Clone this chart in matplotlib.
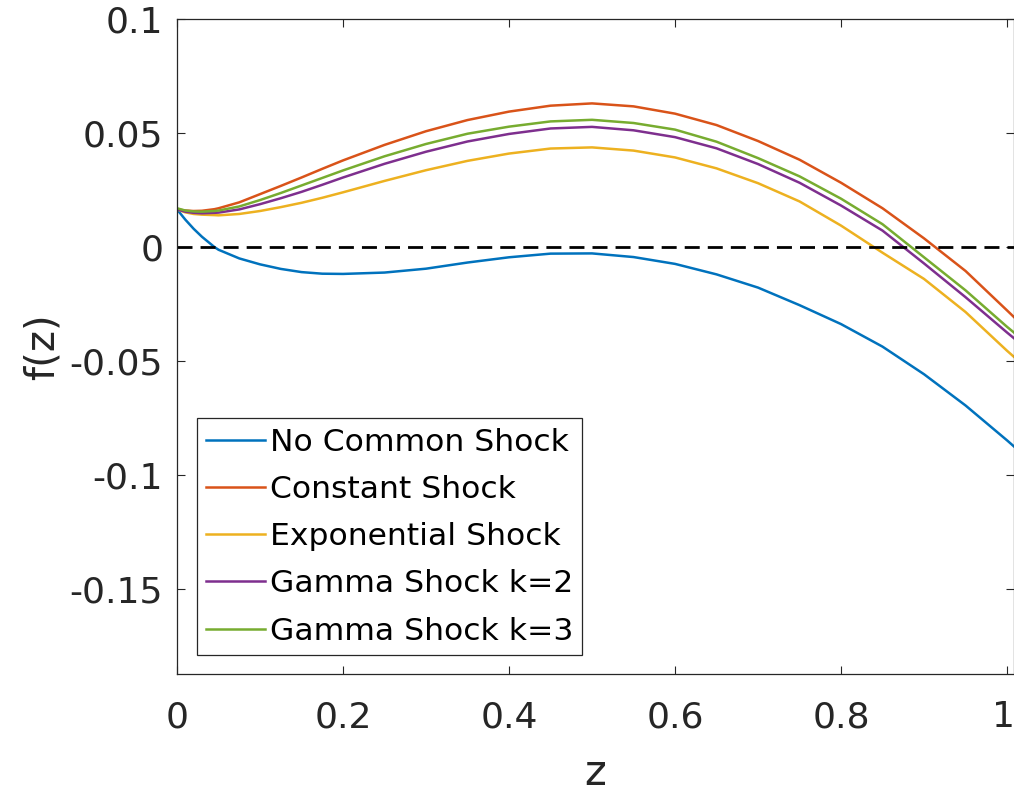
import numpy as np
import matplotlib
matplotlib.use("Agg")
import matplotlib.pyplot as plt
from matplotlib.transforms import ScaledTranslation

plt.rcParams["font.family"] = ["DejaVu Sans"]
plt.rcParams["axes.unicode_minus"] = False

# ── data ────────────────────────────────────────────────────────────
z = [0.0, 0.01, 0.02, 0.03, 0.045, 0.05, 0.075, 0.1, 0.125, 0.15, 0.175, 0.2,
     0.25, 0.3, 0.35, 0.4, 0.45, 0.5, 0.55, 0.6, 0.65, 0.7, 0.75, 0.8,
     0.85, 0.9, 0.95, 1.0, 1.01]

no_common = [0.0165, 0.0120, 0.0080, 0.0045, 0.0000, -0.0012, -0.0050, -0.0076,
             -0.0096, -0.0110, -0.0117, -0.0118, -0.0112, -0.0095, -0.0068,
             -0.0045, -0.0029, -0.0028, -0.0044, -0.0074, -0.0120, -0.0178,
             -0.0255, -0.0338, -0.0437, -0.0558, -0.0695, -0.0848, -0.0880]

constant = [0.0165, 0.0160, 0.0158, 0.0159, 0.0166, 0.0170, 0.0196, 0.0232,
            0.0268, 0.0305, 0.0343, 0.0380, 0.0448, 0.0508, 0.0557, 0.0594,
            0.0620, 0.0630, 0.0617, 0.0585, 0.0535, 0.0465, 0.0383, 0.0282,
            0.0170, 0.0038, -0.0105, -0.0278, -0.0313]

exponential = [0.0165, 0.0152, 0.0145, 0.0142, 0.0140, 0.0139, 0.0145, 0.0158,
               0.0175, 0.0194, 0.0216, 0.0240, 0.0290, 0.0337, 0.0378, 0.0410,
               0.0432, 0.0437, 0.0423, 0.0393, 0.0345, 0.0280, 0.0200, 0.0094,
               -0.0025, -0.0140, -0.0285, -0.0455, -0.0487]

gamma_k2 = [0.0165, 0.0155, 0.0150, 0.0148, 0.0150, 0.0151, 0.0165, 0.0188,
            0.0214, 0.0242, 0.0273, 0.0305, 0.0365, 0.0418, 0.0463, 0.0496,
            0.0520, 0.0527, 0.0512, 0.0482, 0.0433, 0.0364, 0.0282, 0.0182,
            0.0072, -0.0072, -0.0220, -0.0375, -0.0405]

gamma_k3 = [0.0170, 0.0160, 0.0156, 0.0155, 0.0158, 0.0160, 0.0178, 0.0206,
            0.0237, 0.0270, 0.0303, 0.0336, 0.0398, 0.0452, 0.0497, 0.0528,
            0.0551, 0.0558, 0.0544, 0.0515, 0.0462, 0.0390, 0.0310, 0.0212,
            0.0100, -0.0045, -0.0190, -0.0350, -0.0380]

series = [no_common, constant, exponential, gamma_k2, gamma_k3]
labels = ["No Common Shock", "Constant Shock", "Exponential Shock",
          "Gamma Shock k=2", "Gamma Shock k=3"]
colors = ["#0072BD", "#D95319", "#EDB120", "#7E2F8E", "#77AC30"]

xticks = [0, 0.2, 0.4, 0.6, 0.8, 1.0]
xtick_labels = ["0", "0.2", "0.4", "0.6", "0.8", "1"]
yticks = [-0.15, -0.1, -0.05, 0, 0.05, 0.1]
ytick_labels = ["-0.15", "-0.1", "-0.05", "0", "0.05", "0.1"]

# ── figure ──────────────────────────────────────────────────────────
fig = plt.figure(figsize=(10.14, 7.97), dpi=100)
ax = fig.add_axes([0.1746, 0.1543, 0.8254, 0.8218])

for y, lab, c in zip(series, labels, colors):
    ax.plot(z, y, color=c, lw=1.8, label=lab)
ax.axhline(0, color="k", lw=2.0, ls=(0, (5.4, 2.9)))

ax.set_xlim(0, 1.0084)
ax.set_ylim(-0.1873, 0.1)
ax.set_xticks(xticks)
ax.set_xticklabels(xtick_labels)
ax.set_yticks(yticks)
ax.set_yticklabels(ytick_labels)

dark = "#262626"
for s in ax.spines.values():
    s.set_color(dark)
    s.set_linewidth(0.9)
ax.tick_params(direction="in", length=5.8, width=0.8, color=dark,
               labelcolor=dark, labelsize=26, top=True, right=True)
ax.tick_params(axis="x", pad=19)
ax.tick_params(axis="y", pad=10)

# nudge the last x label so it stays inside the canvas
last = ax.get_xticklabels()[-1]
last.set_transform(last.get_transform()
                   + ScaledTranslation(-4 / 100, 0, fig.dpi_scale_trans))

ax.set_xlabel("z", fontsize=30, color=dark, labelpad=13)
ax.set_ylabel("f(z)", fontsize=29, color=dark, labelpad=5)

leg = ax.legend(loc="lower left", bbox_to_anchor=(0.0239, 0.029),
                borderaxespad=0, fontsize=22.6, frameon=True, fancybox=False,
                edgecolor=dark, framealpha=1, handlelength=1.85,
                handletextpad=0.16, borderpad=0.3, labelspacing=0.58)
leg.get_frame().set_linewidth(0.9)

fig.savefig("out.png", dpi=100)
